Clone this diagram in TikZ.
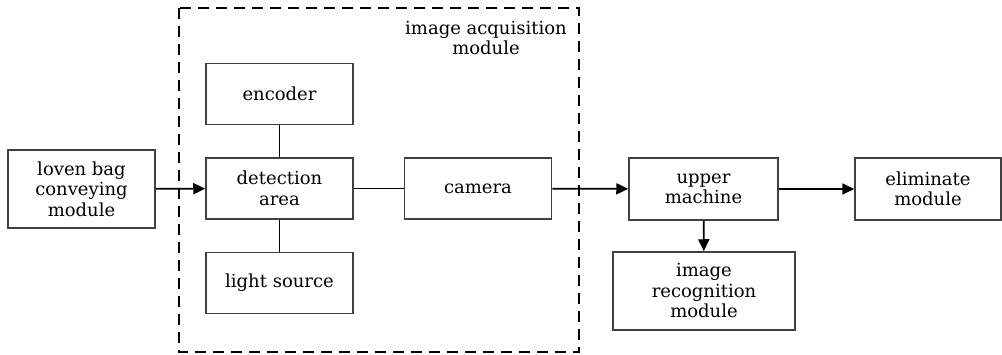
\documentclass[tikz,border=0pt]{standalone}
\usepackage{fontspec}
\setmainfont{DejaVu Serif}
\usetikzlibrary{arrows.meta}
\begin{document}
\begin{tikzpicture}[x=1pt,y=-1pt,
  txt/.style={align=center,font=\fontsize{18}{20.5}\selectfont},
  blk/.style={txt,draw=black!75,line width=1.5pt,inner sep=0pt},
  link/.style={line width=1.8pt},
  flow/.style={line width=1.8pt,-{Triangle[length=12pt,width=11pt]}}]
\useasboundingbox (0,0) rectangle (1002,355);
% dashed frame of the acquisition module
\draw[line width=1.8pt,dash pattern=on 11pt off 7pt] (179,8) rectangle (579,352);
\node[txt] (lbl) at (486,38) {image acquisition\\module};
% blocks (corners given as pixel positions)
\node[blk,minimum width=147pt,minimum height=78pt] (src) at (81.5,189) {loven bag\\conveying\\module};
\node[blk,minimum width=147pt,minimum height=61pt] (enc) at (279.5,94) {encoder};
\node[blk,minimum width=147pt,minimum height=61pt] (det) at (279.5,188.5) {detection\\area};
\node[blk,minimum width=147pt,minimum height=61pt] (lgt) at (279.5,283) {light source};
\node[blk,minimum width=147pt,minimum height=61pt] (cam) at (478,188.5) {camera};
\node[blk,minimum width=149pt,minimum height=62pt] (pc) at (703.5,189) {upper\\machine};
\node[blk,minimum width=146pt,minimum height=62pt] (elm) at (928,189) {eliminate\\module};
\node[blk,minimum width=182pt,minimum height=78pt] (rec) at (704,291) {image\\recognition\\module};
% connectors
\draw[link] (enc) -- (det);
\draw[link] (det) -- (lgt);
\draw[link] (det) -- (cam);
\draw[flow] (src) -- (det);
\draw[flow] (cam) -- (pc);
\draw[flow] (pc) -- (elm);
\draw[flow] (pc) -- (rec);
\end{tikzpicture}
\end{document}
